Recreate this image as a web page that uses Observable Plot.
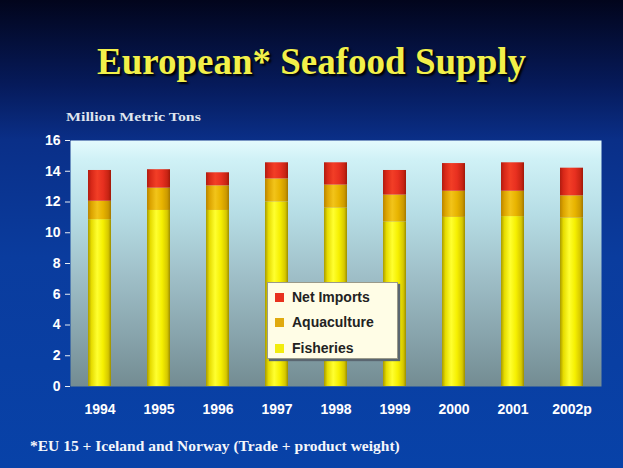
<!DOCTYPE html>
<html>
<head>
<meta charset="utf-8">
<script src="https://cdn.jsdelivr.net/npm/d3@7"></script>
<script src="https://cdn.jsdelivr.net/npm/@observablehq/plot@0.6"></script>
<style>
  html, body { margin: 0; padding: 0; }
  #page {
    position: relative; width: 623px; height: 468px; overflow: hidden;
    background: linear-gradient(to bottom, #02051c 0%, #061a5a 18%, #0a2f88 30%, #0a3c9e 55%, #0842a8 100%);
    font-family: "Liberation Sans", Arial, sans-serif;
  }
  #title {
    position: absolute; left: 0; width: 623px; top: 40px; text-align: center;
    font-family: "Liberation Serif", "Times New Roman", serif; font-weight: bold;
    font-size: 37px; color: #f2f04a; text-shadow: 2px 2px 2px #000;
  }
  #unit {
    position: absolute; left: 66px; top: 109px; transform: scaleX(1.22); transform-origin: left center;
    font-family: "Liberation Serif", serif; font-weight: bold; font-size: 13px; color: #dfe4ee;
  }
  #chart { position: absolute; left: 0; top: 130px; }
  #legend {
    position: absolute; left: 267px; top: 282px; width: 129px; height: 75px;
    background: #fffde6; border: 1px solid #9a9a8a; box-shadow: 2px 2px 1px #5a6670;
  }
  .item { position: absolute; left: 7px; font-size: 14px; font-weight: bold; color: #222; }
  .sw { display: inline-block; width: 9px; height: 9px; margin-right: 8px; vertical-align: 0px; }
  #note {
    position: absolute; left: 30px; top: 437px;
    font-family: "Liberation Serif", serif; font-weight: bold; font-size: 15.5px; color: #f4f6fb;
  }
</style>
</head>
<body>
<div id="page">
  <div id="title">European* Seafood Supply</div>
  <div id="unit">Million Metric Tons</div>
  <div id="chart"></div>
  <div id="legend"></div>
  <div id="note">*EU 15 + Iceland and Norway (Trade + product weight)</div>
</div>
<script>
const years = ["1994", "1995", "1996", "1997", "1998", "1999", "2000", "2001", "2002p"];
const fisheries   = [10.85, 11.45, 11.45, 12.0, 11.6, 10.7, 11.0, 11.05, 10.95];
const aquaculture = [1.2, 1.45, 1.6, 1.5, 1.5, 1.75, 1.7, 1.65, 1.45];
const netImports  = [2.0, 1.2, 0.85, 1.05, 1.45, 1.6, 1.8, 1.85, 1.8];
const seriesNames = ["Fisheries", "Aquaculture", "Net Imports"];
const yTicks = [0, 2, 4, 6, 8, 10, 12, 14, 16];

const seriesValues = [fisheries, aquaculture, netImports];
const rows = [];
years.forEach((yr, i) => {
  seriesNames.forEach((s, k) => rows.push({year: yr, series: s, value: seriesValues[k][i]}));
});

const chart = Plot.plot({
  width: 623,
  height: 286,
  marginLeft: 70,
  marginRight: 22,
  marginTop: 10,
  marginBottom: 30,
  style: {background: "transparent", color: "white", fontFamily: "Liberation Sans, Arial, sans-serif", fontSize: "14px", fontWeight: "bold"},
  x: {domain: years, paddingInner: 0.61, paddingOuter: 0.3, label: null, tickSize: 0, tickPadding: 18},
  y: {domain: [0, 16], ticks: yTicks, label: null, tickSize: 5, tickPadding: 5},
  color: {domain: seriesNames, range: ["url(#gFish)", "url(#gAqua)", "url(#gImp)"]},
  marks: [
    Plot.frame({fill: "url(#gPanel)", stroke: null}),
    Plot.barY(rows, {x: "year", y: "value", fill: "series"}),
    Plot.axisX({tickSize: 0, tickPadding: 18, fill: "white"}),
    Plot.axisY({ticks: yTicks, tickSize: 5, tickPadding: 5, stroke: "#e8eef4", fill: "white"})
  ]
});

const svg = d3.select(chart);
const defs = svg.insert("defs", ":first-child");
function hgrad(id, stops) {
  const g = defs.append("linearGradient").attr("id", id).attr("x1", "0").attr("y1", "0").attr("x2", "1").attr("y2", "0");
  stops.forEach(([o, c]) => g.append("stop").attr("offset", o).attr("stop-color", c));
}
hgrad("gFish", [[0, "#a89a00"], [0.15, "#e6dc00"], [0.4, "#ffff30"], [0.65, "#f6f000"], [0.88, "#d6c800"], [1, "#9c8e00"]]);
hgrad("gAqua", [[0, "#b88400"], [0.15, "#dca400"], [0.4, "#f2c41a"], [0.65, "#e8b400"], [0.88, "#cc9a00"], [1, "#a47800"]]);
hgrad("gImp",  [[0, "#b01c10"], [0.15, "#d82818"], [0.4, "#f23e26"], [0.65, "#e83020"], [0.88, "#c82414"], [1, "#a01808"]]);
const gp = defs.append("linearGradient").attr("id", "gPanel").attr("x1", "0").attr("y1", "0").attr("x2", "0").attr("y2", "1");
[[0, "#e4fafd"], [0.08, "#cff1f6"], [0.3, "#b6dde5"], [0.55, "#9fbfc8"], [0.8, "#87a3ab"], [1, "#738c92"]]
  .forEach(([o, c]) => gp.append("stop").attr("offset", o).attr("stop-color", c));

document.getElementById("chart").appendChild(chart);

// Legend (top-to-bottom order as in the reference)
const legendColors = {"Net Imports": "#e8321e", "Aquaculture": "#e0aa10", "Fisheries": "#f2ec10"};
const legendOrder = ["Net Imports", "Aquaculture", "Fisheries"];
const legendTops = [6, 31, 57];
const legend = document.getElementById("legend");
legendOrder.forEach((name, i) => {
  const d = document.createElement("div");
  d.className = "item";
  d.style.top = legendTops[i] + "px";
  d.innerHTML = `<span class="sw" style="background:${legendColors[name]}"></span>${name}`;
  legend.appendChild(d);
});
</script>
</body>
</html>
